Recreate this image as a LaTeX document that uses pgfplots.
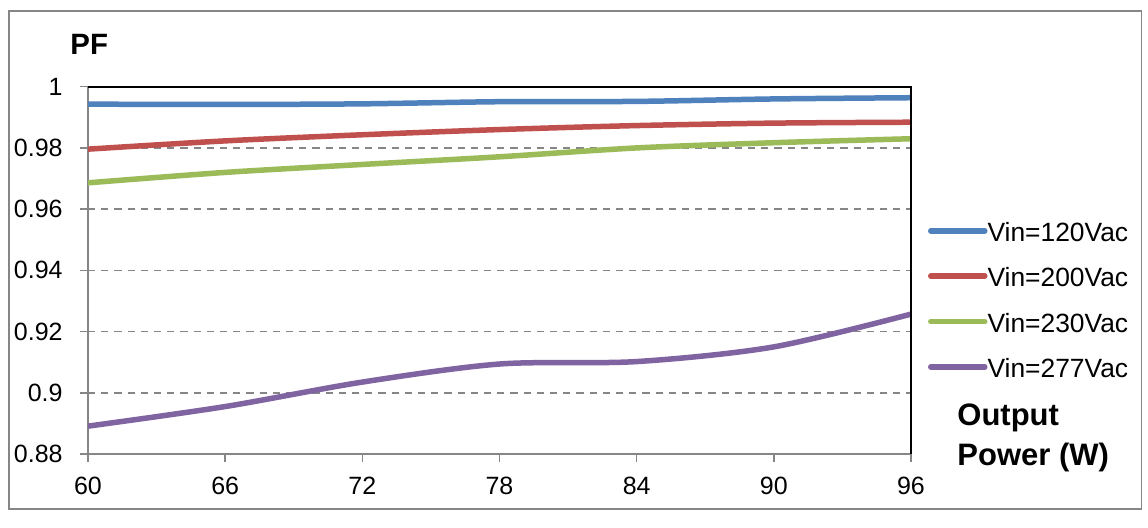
\documentclass[border=0pt]{standalone}
\usepackage{fontspec}
\setmainfont{Liberation Sans}
\usepackage{pgfplots}
\pgfplotsset{compat=1.18}
\definecolor{cblue}{HTML}{4F81BD}
\definecolor{cred}{HTML}{C0504D}
\definecolor{cgreen}{HTML}{9BBB59}
\definecolor{cpurple}{HTML}{8064A2}
\definecolor{axgray}{HTML}{868686}
\begin{document}
\begin{tikzpicture}
\path[use as bounding box] (-44pt,-36.5pt) rectangle (530pt,227pt);
\fill[white] (-44pt,-36.5pt) rectangle (530pt,227pt);
\draw[axgray, line width=0.75pt] (-39.5pt,-27.5pt) rectangle (526.75pt,221.5pt);
\begin{axis}[
  at={(0,0)}, anchor=south west,
  scale only axis, width=411.5pt, height=183.65pt,
  xmin=60, xmax=96, ymin=0.88, ymax=1,
  clip=false,
  xtick={60,66,72,78,84,90,96},
  ytick={0.88,0.90,0.92,0.94,0.96,0.98,1},
  yticklabels={0.88,0.9,0.92,0.94,0.96,0.98,1},
  xtick pos=left, ytick pos=left,
  tick align=outside,
  major tick length=4pt,
  tick style={axgray, line width=0.75pt},
  axis line style={axgray, line width=0.75pt},
  ymajorgrids,
  major grid style={axgray, line width=0.85pt, dash pattern=on 3.6pt off 3pt},
  /pgf/number format/assume math mode=true,
  ticklabel style={font=\fontsize{12.5}{15}\selectfont, black},
  yticklabel style={inner sep=0pt, anchor=east, xshift=-8.5pt},
  xticklabel style={inner sep=0pt, anchor=north, yshift=-7.5pt},
  legend style={draw=none, fill=none, inner sep=0pt, outer sep=0pt,
    at={(axis description cs:1.0207,0.419)}, anchor=west,
    font=\fontsize{13.2}{15}\selectfont, row sep=13.4pt,
    nodes={inner sep=0pt, text height=9.3pt, text depth=0pt}},
  legend cell align=left,
  legend image code/.code={\draw[#1, line cap=round] (0pt,0.6pt) -- (27pt,0.6pt);},
  every axis plot/.append style={line width=2.75pt, smooth},
]
\addplot[cblue] coordinates {(60,0.9943)(66,0.9942)(72,0.9944)(78,0.9951)(84,0.9952)(90,0.9960)(96,0.9964)};
\addlegendentry{Vin=120Vac}
\addplot[cred] coordinates {(60,0.9796)(66,0.9823)(72,0.9843)(78,0.9860)(84,0.9873)(90,0.9881)(96,0.9884)};
\addlegendentry{Vin=200Vac}
\addplot[cgreen] coordinates {(60,0.9686)(66,0.9720)(72,0.9746)(78,0.9771)(84,0.9800)(90,0.9817)(96,0.9830)};
\addlegendentry{Vin=230Vac}
\addplot[cpurple] coordinates {(60,0.8891)(66,0.8955)(72,0.9035)(78,0.9094)(84,0.9102)(90,0.9150)(96,0.9257)};
\addlegendentry{Vin=277Vac}
\draw[black, line width=0.9pt] (rel axis cs:0,1) -- (rel axis cs:1,1) -- (rel axis cs:1,0);
\end{axis}
\node[anchor=west, inner sep=0pt, font=\bfseries\fontsize{14.7}{17}\selectfont] at (-9pt,205pt) {PF};
\node[anchor=west, inner sep=0pt, font=\bfseries\fontsize{15.5}{19.5}\selectfont] at (434.5pt,18pt) {Output};
\node[anchor=west, inner sep=0pt, font=\bfseries\fontsize{15.5}{19.5}\selectfont] at (434.5pt,-1.5pt) {Power (W)};
\end{tikzpicture}
\end{document}
